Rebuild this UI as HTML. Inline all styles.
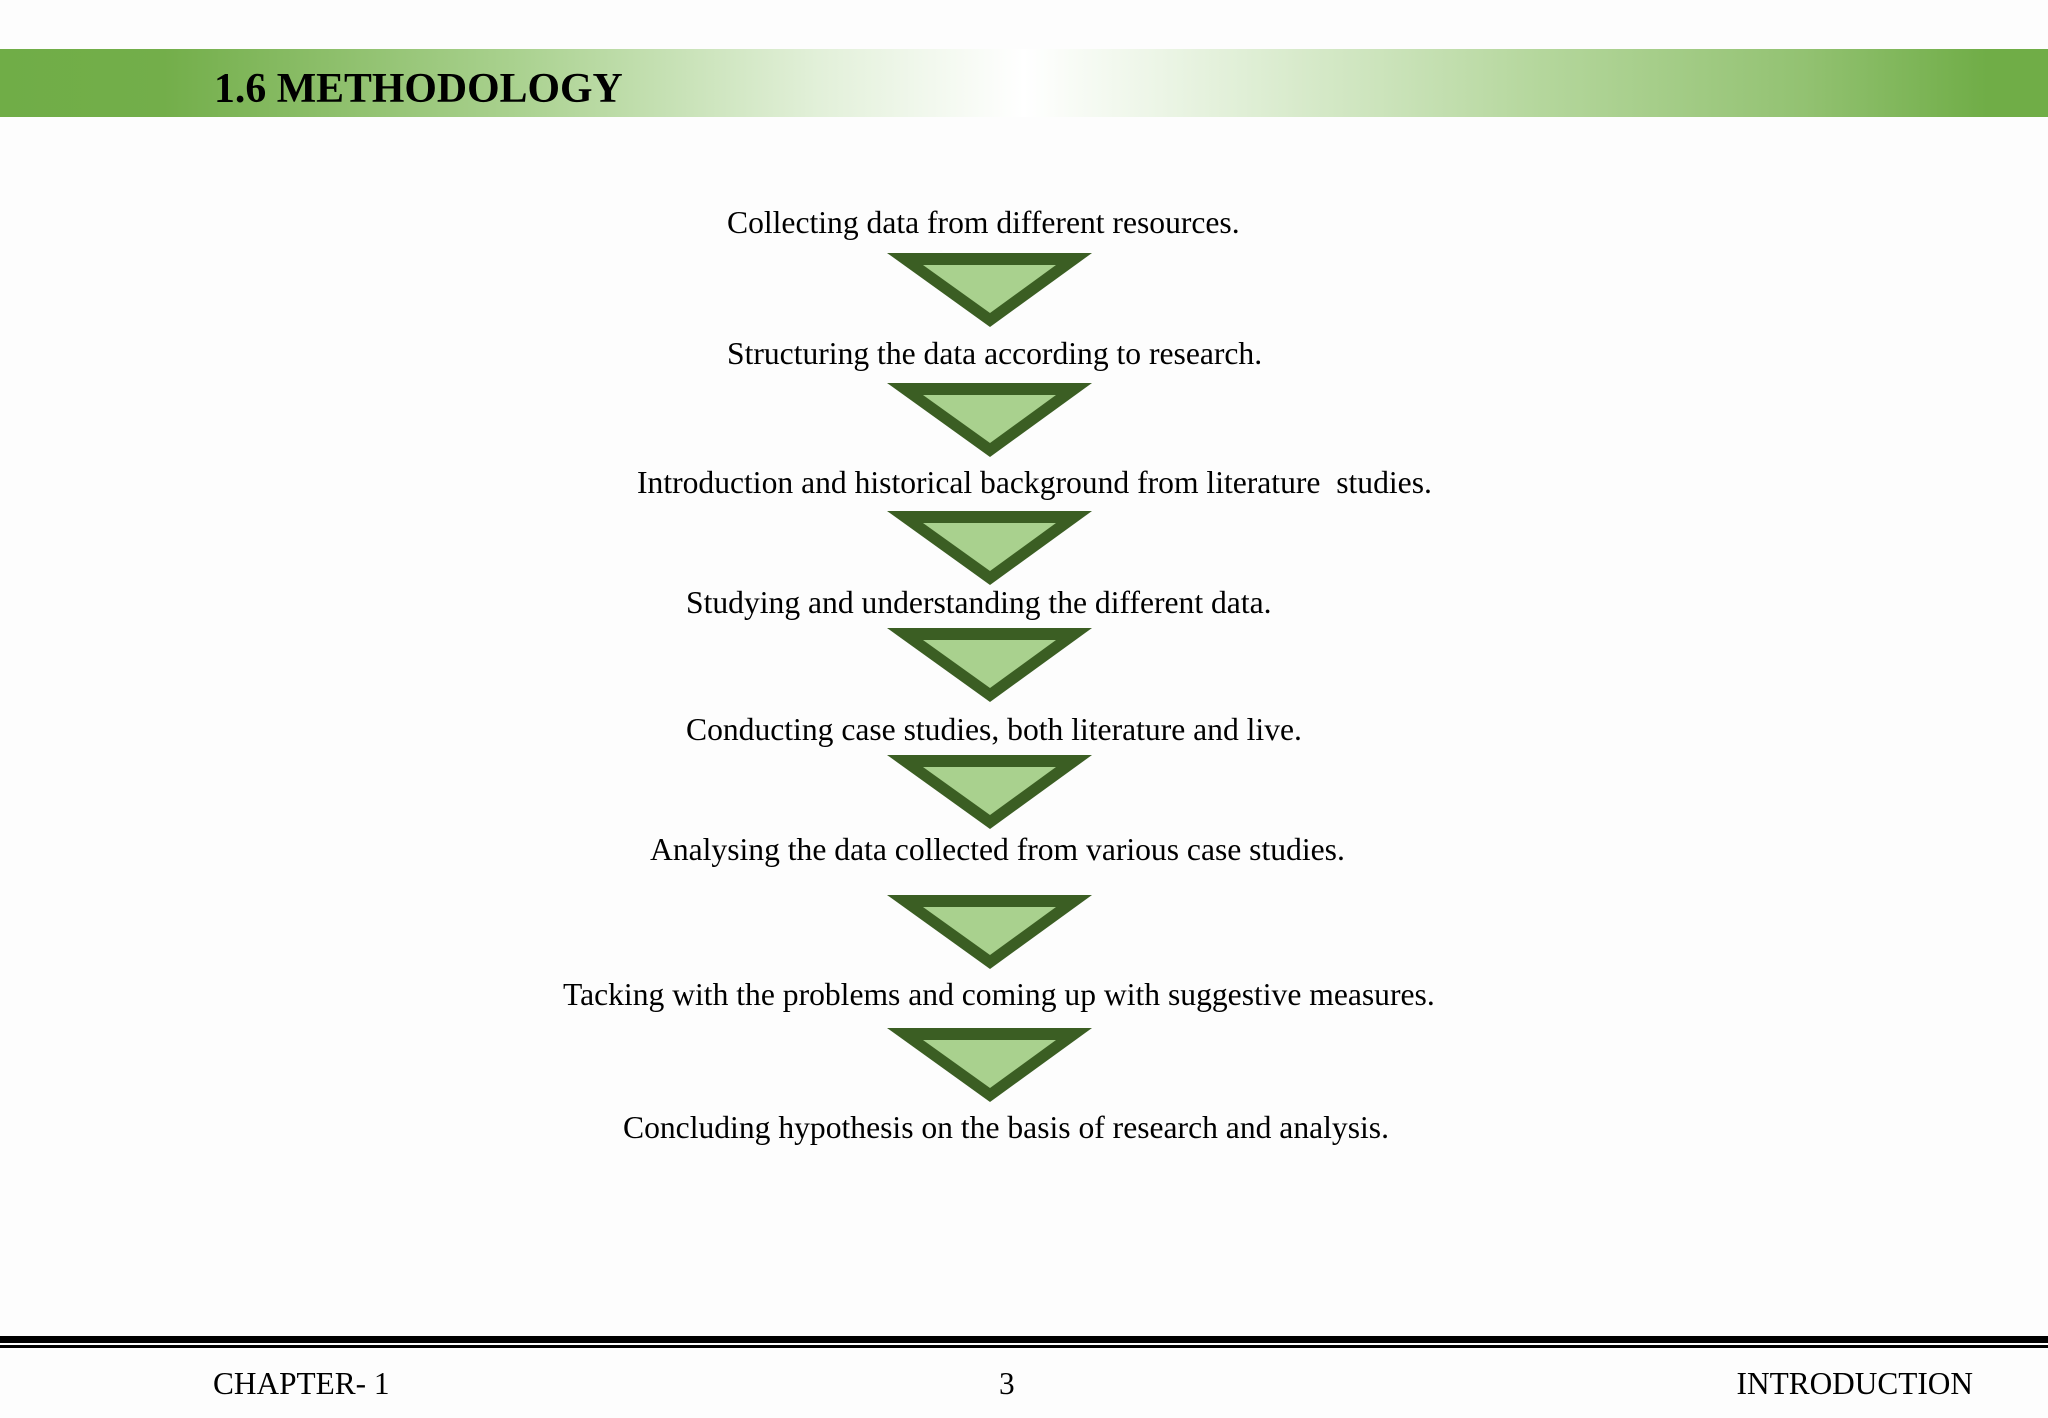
<!DOCTYPE html>
<html><head><meta charset="utf-8"><style>
html,body{margin:0;padding:0}
body{width:2048px;height:1418px;position:relative;background:#fdfdfd;overflow:hidden;font-family:"Liberation Serif",serif;color:#000}
.band{position:absolute;left:0;top:49px;width:2048px;height:68px;background:linear-gradient(90deg,#70ad47 0%,#73ae4a 8%,#a9d18e 25%,#e2f0d9 40%,#ffffff 50%,#e2f0d9 60%,#b5d79d 75%,#93c272 88%,#70ad47 97%)}
.title{position:absolute;left:214px;top:66px;font-size:41.8px;font-weight:bold;line-height:46px;white-space:nowrap}
.t{position:absolute;font-size:31.6px;line-height:30px;white-space:nowrap}
.f{position:absolute;font-size:31.3px;line-height:30px;top:1369px;white-space:nowrap}
</style></head><body>
<div class="band"></div>
<div class="title">1.6 METHODOLOGY</div>
<div class="t" style="left:727px;top:208px">Collecting data from different resources.</div>
<div class="t" style="left:727px;top:339px">Structuring the data according to research.</div>
<div class="t" style="left:637px;top:468px">Introduction and historical background from literature&nbsp; studies.</div>
<div class="t" style="left:686px;top:588px">Studying and understanding the different data.</div>
<div class="t" style="left:686px;top:715px">Conducting case studies, both literature and live.</div>
<div class="t" style="left:650px;top:835px">Analysing the data collected from various case studies.</div>
<div class="t" style="left:563px;top:980px">Tacking with the problems and coming up with suggestive measures.</div>
<div class="t" style="left:623px;top:1113px">Concluding hypothesis on the basis of research and analysis.</div>
<svg width="2048" height="1418" style="position:absolute;left:0;top:0">
<g id="tri">
<polygon points="887,253 1092,253 990,327" fill="#3b5e23"/>
<polygon points="923,265 1056,265 990,313" fill="#a9d18e"/>
</g>
<use href="#tri" transform="translate(0,130)"/>
<use href="#tri" transform="translate(0,258)"/>
<use href="#tri" transform="translate(0,375)"/>
<use href="#tri" transform="translate(0,502)"/>
<use href="#tri" transform="translate(0,642)"/>
<use href="#tri" transform="translate(0,775)"/>
<rect x="0" y="1336" width="2048" height="7" fill="#000"/>
<rect x="0" y="1345" width="2048" height="3" fill="#000"/>
</svg>
<div class="f" style="left:213px">CHAPTER- 1</div>
<div class="f" style="left:999px">3</div>
<div class="f" style="right:75px">INTRODUCTION</div>
</body></html>
